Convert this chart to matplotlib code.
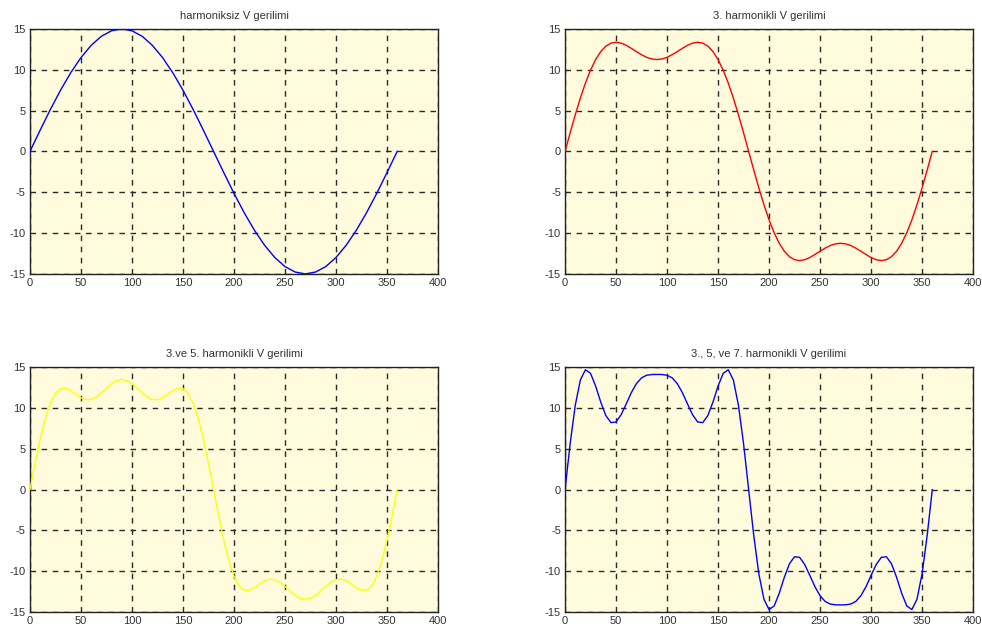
import matplotlib
matplotlib.use('Agg')
import matplotlib.pyplot as plt

# aci (derece)
aci_10 = list(range(0, 361, 10))
aci_5 = list(range(0, 361, 5))

# harmoniksiz
v_temel = [0, 2.60, 5.13, 7.50, 9.64, 11.49, 12.99, 14.10, 14.77, 15.00,
           14.77, 14.10, 12.99, 11.49, 9.64, 7.50, 5.13, 2.60, 0,
           -2.60, -5.13, -7.50, -9.64, -11.49, -12.99, -14.10, -14.77, -15.00,
           -14.77, -14.10, -12.99, -11.49, -9.64, -7.50, -5.13, -2.60, 0]

# 3. harmonikli
v_h3 = [0, 2.28, 4.48, 6.53, 8.38, 9.96, 11.25, 12.23, 12.89, 13.26, 13.37, 13.26, 12.99,
        12.62, 12.22, 11.84, 11.52, 11.32, 11.25, 11.32, 11.52, 11.84, 12.22, 12.62,
        12.99, 13.26, 13.37, 13.26, 12.89, 12.23, 11.25, 9.96, 8.38, 6.53, 4.48, 2.28, 0,
        -2.28, -4.48, -6.53, -8.38, -9.96, -11.25, -12.23, -12.89, -13.26, -13.37, -13.26, -12.99,
        -12.62, -12.22, -11.84, -11.52, -11.32, -11.25, -11.32, -11.52, -11.84, -12.22, -12.62,
        -12.99, -13.26, -13.37, -13.26, -12.89, -12.23, -11.25, -9.96, -8.38, -6.53, -4.48, -2.28, 0]

# 3. ve 5. harmonikli
v_h35 = [0, 3.23, 6.20, 8.71, 10.59, 11.80, 12.38, 12.42, 12.12, 11.67, 11.25, 11.02, 11.04,
         11.33, 11.83, 12.42, 12.97, 13.36, 13.50, 13.36, 12.97, 12.42, 11.83, 11.33,
         11.04, 11.02, 11.25, 11.67, 12.12, 12.42, 12.38, 11.80, 10.59, 8.71, 6.20, 3.23, 0,
         -3.23, -6.20, -8.71, -10.59, -11.80, -12.30, -12.30, -12.02, -11.57, -11.15, -10.95, -11.04,
         -11.33, -11.83, -12.42, -12.97, -13.30, -13.40, -13.30, -12.97, -12.42, -11.83, -11.33,
         -11.04, -10.95, -11.15, -11.57, -12.02, -12.30, -12.30, -11.80, -10.59, -8.71, -6.20, -3.23, 0]

# 3., 5. ve 7. harmonikli
v_h357 = [0, 5.62, 10.32, 13.43, 14.68, 14.24, 12.68, 10.72, 9.07, 8.21, 8.29, 9.18, 10.51,
          11.89, 12.99, 13.69, 14.01, 14.10, 14.11, 14.10, 14.01, 13.69, 12.99, 11.89,
          10.51, 9.18, 8.29, 8.21, 9.07, 10.72, 12.68, 14.24, 14.68, 13.43, 10.32, 5.62, 0,
          -5.62, -10.32, -13.43, -14.68, -14.24, -12.68, -10.72, -9.07, -8.21, -8.29, -9.18, -10.51,
          -11.89, -12.99, -13.69, -14.01, -14.10, -14.11, -14.10, -14.01, -13.69, -12.99, -11.89,
          -10.51, -9.18, -8.29, -8.21, -9.07, -10.72, -12.68, -14.24, -14.68, -13.43, -10.32, -5.62, 0]

basliklar = ['harmoniksiz V gerilimi', '3. harmonikli V gerilimi',
             '3.ve 5. harmonikli V gerilimi', '3., 5, ve 7. harmonikli V gerilimi']
seriler = [(aci_10, v_temel), (aci_5, v_h3), (aci_5, v_h35), (aci_5, v_h357)]
renkler = ['#0000ff', '#ff0000', '#ffff00', '#0000ff']

# eksen konumlari (figur orani)
konumlar = [[0.0305, 0.570, 0.4155, 0.3846],
            [0.5754, 0.570, 0.4155, 0.3846],
            [0.0305, 0.039, 0.4155, 0.3846],
            [0.5754, 0.039, 0.4155, 0.3846]]

plt.rcParams['font.family'] = ['Liberation Sans', 'DejaVu Sans']
plt.rcParams['axes.unicode_minus'] = False
fig = plt.figure(figsize=(9.82, 6.37), dpi=100)
fig.patch.set_facecolor('white')

for i in range(4):
    ax = fig.add_axes(konumlar[i])
    ax.set_facecolor('#fffbdc')
    x, y = seriler[i]
    ax.plot(x, y, color=renkler[i], linewidth=1.0, zorder=3)
    ax.set_xlim(0, 400)
    ax.set_ylim(-15, 15)
    ax.set_xticks(range(0, 401, 50))
    ax.set_yticks(range(-15, 16, 5))
    ax.grid(True, color='#2a2a2a', linestyle=(0, (4, 4)), linewidth=1.0)
    ax.tick_params(direction='in', length=0, labelsize=8, labelcolor='#333333', pad=3)
    for s in ax.spines.values():
        s.set_color('#222222')
        s.set_linewidth(1.0)
    ax.set_title(basliklar[i], fontsize=8, color='#333333', pad=7)

fig.savefig('out.png', dpi=100)
